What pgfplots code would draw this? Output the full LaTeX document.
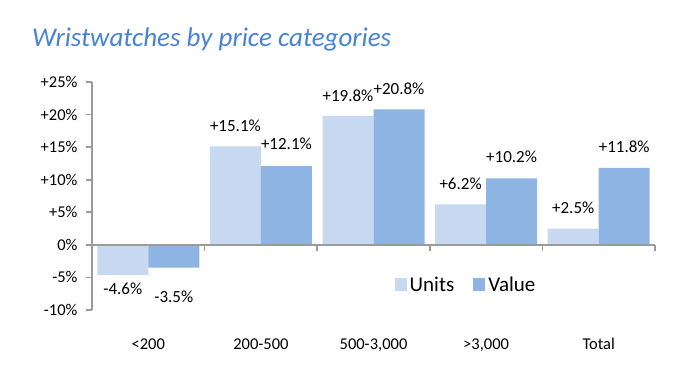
\documentclass[border=0pt]{standalone}
\usepackage{pgfplots}
\pgfplotsset{compat=1.18}
\usepackage{pgfplotstable}
\usepackage{fontspec}
\setmainfont{Carlito}
\definecolor{unitc}{RGB}{198,217,241}
\definecolor{valc}{RGB}{141,180,226}
\definecolor{titc}{RGB}{70,130,215}
\definecolor{axc}{RGB}{155,155,155}
\pgfplotstableread{
x u ul uo v vl vo
0 -4.6 -4.6 -14 -3.5 -3.5 -29
1 15.1 +15.1 21 12.1 +12.1 22
2 19.8 +19.8 20 20.8 +20.8 21
3 6.2 +6.2 21 10.2 +10.2 22
4 2.5 +2.5 21 11.8 +11.8 21
}\data
\begin{document}
\begin{tikzpicture}
\useasboundingbox (-92pt,-72pt) rectangle (584pt,310pt);
\node[anchor=base west, font=\fontsize{27}{32}\selectfont\itshape, text=titc, inner sep=0pt] at (-60pt,263pt) {Wristwatches by price categories};
\begin{axis}[
  scale only axis, width=563pt, height=228pt,
  xmin=-0.5, xmax=4.5, ymin=-10, ymax=25,
  ybar=0pt, bar width=51pt,
  axis lines=left,
  axis line style={-, draw=axc, line width=1.6pt},
  x axis line style={draw=none},
  xtick={0,1,2,3,4},
  xticklabels={{<200},{200-500},{500-3,000},{>3,000},{Total}},
  xtick style={draw=none},
  xticklabel style={yshift=-19pt},
  ytick={-10,-5,0,5,10,15,20,25},
  yticklabels={-10\%,-5\%,0\%,+5\%,+10\%,+15\%,+20\%,+25\%},
  ytick style={draw=axc, line width=1.6pt},
  tick align=outside,
  major tick length=6pt,
  yticklabel style={xshift=-5pt},
  ticklabel style={font=\fontsize{16.5}{19}\selectfont},
  nodes near coords={\pgfplotspointmeta\%},
  point meta=explicit symbolic,
  every node near coord/.append style={font=\fontsize{17}{20}\selectfont, anchor=center, yshift=\off pt},
  legend style={draw=none, fill=none, at={(0.532,0.11)}, anchor=west, legend columns=2,
    font=\fontsize{21}{24}\selectfont,
    /tikz/every odd column/.append style={column sep=1pt},
    /tikz/every even column/.append style={column sep=17pt}},
  legend image code/.code={\fill[#1] (0pt,-6pt) rectangle (12pt,6.5pt);},
  clip=false,
]
\addplot[fill=unitc, draw=none, visualization depends on={\thisrow{uo}\as\off}] table[x=x, y=u, meta=ul] {\data};
\addplot[fill=valc, draw=none, visualization depends on={\thisrow{vo}\as\off}] table[x=x, y=v, meta=vl] {\data};
\legend{Units, Value}
\draw[axc, line width=1.6pt] (axis cs:-0.5,0) -- (axis cs:4.5,0);
\pgfplotsinvokeforeach{-0.5,0.5,1.5,2.5,3.5,4.5}{
  \draw[axc, line width=1.6pt] (axis cs:#1,0) -- ++(0pt,-6pt);
}
\end{axis}
\end{tikzpicture}
\end{document}
